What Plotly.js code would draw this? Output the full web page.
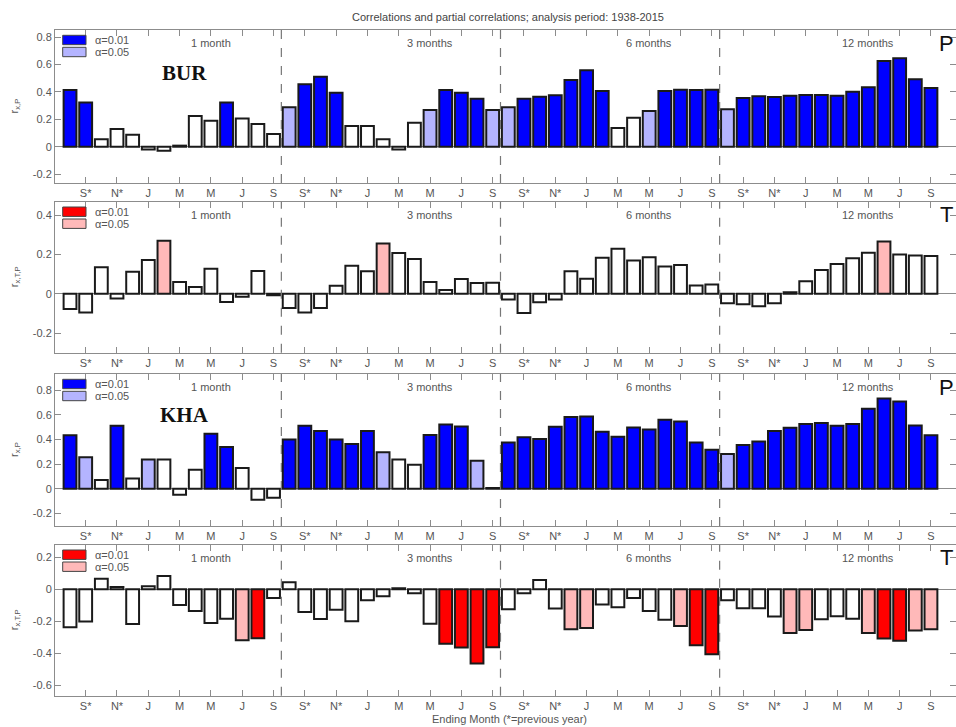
<!DOCTYPE html>
<html>
<head>
<meta charset="utf-8">
<script src="https://cdn.plot.ly/plotly-3.0.1.min.js"></script>
<style>html,body{margin:0;padding:0;background:#fff;} #chart{width:956px;height:727px;}</style>
</head>
<body>
<div id="chart"></div>
<script>
// ---- data ----
const sections = ['1 month', '3 months', '6 months', '12 months'];
const monthsPerSection = ['A*','S*','O*','N*','D*','J','F','M','A','M','J','J','A','S'];
const tickLabels = ['S*', 'N*', 'J', 'M', 'M', 'J', 'S'];
const stations = ['BUR', 'KHA'];
const panelVars = ['P', 'T', 'P', 'T'];
const yTitles = ['r<sub>x,P</sub>', 'r<sub>x,T,P</sub>', 'r<sub>x,P</sub>', 'r<sub>x,T,P</sub>'];
const sigLabels = ['\u03b1=0.01', '\u03b1=0.05'];

// significance codes: 0 = not significant, 1 = alpha 0.05, 2 = alpha 0.01
const burP = [0.415,0.324,0.054,0.13,0.088,-0.02,-0.03,0.008,0.225,0.19,0.324,0.207,0.166,0.093,
  0.288,0.456,0.512,0.395,0.151,0.151,0.054,-0.02,0.176,0.268,0.415,0.395,0.351,0.268,
  0.288,0.351,0.366,0.376,0.488,0.559,0.407,0.137,0.212,0.261,0.407,0.417,0.415,0.417,
  0.273,0.356,0.368,0.363,0.373,0.378,0.378,0.373,0.402,0.434,0.627,0.646,0.493,0.429];
const burPSig = [2,2,0,0,0,0,0,0,0,0,2,0,0,0,
  1,2,2,2,0,0,0,0,0,1,2,2,2,1,
  1,2,2,2,2,2,2,0,0,1,2,2,2,2,
  1,2,2,2,2,2,2,2,2,2,2,2,2,2];

const burT = [-0.078,-0.095,0.134,-0.024,0.112,0.171,0.27,0.059,0.034,0.127,-0.042,-0.015,0.115,-0.008,
  -0.073,-0.095,-0.073,0.041,0.142,0.114,0.256,0.207,0.176,0.059,0.019,0.075,0.054,0.056,
  -0.029,-0.098,-0.044,-0.03,0.114,0.076,0.183,0.229,0.169,0.186,0.139,0.146,0.042,0.047,
  -0.049,-0.054,-0.064,-0.049,0.007,0.064,0.12,0.151,0.181,0.208,0.266,0.2,0.195,0.192];
const burTSig = [0,0,0,0,0,0,1,0,0,0,0,0,0,0,
  0,0,0,0,0,0,1,0,0,0,0,0,0,0,
  0,0,0,0,0,0,0,0,0,0,0,0,0,0,
  0,0,0,0,0,0,0,0,0,0,1,0,0,0];

const khaP = [0.433,0.255,0.07,0.511,0.083,0.237,0.237,-0.048,0.153,0.446,0.339,0.169,-0.089,-0.073,
  0.40,0.511,0.468,0.40,0.363,0.468,0.295,0.238,0.195,0.435,0.52,0.505,0.227,0.006,
  0.374,0.417,0.403,0.503,0.581,0.586,0.462,0.422,0.497,0.481,0.559,0.546,0.374,0.317,
  0.282,0.355,0.382,0.468,0.495,0.524,0.532,0.511,0.524,0.648,0.731,0.707,0.513,0.433];
const khaPSig = [2,1,0,2,0,1,0,0,0,2,2,0,0,0,
  2,2,2,2,2,2,1,0,0,2,2,2,1,0,
  2,2,2,2,2,2,2,2,2,2,2,2,2,2,
  1,2,2,2,2,2,2,2,2,2,2,2,2,2];

const khaT = [-0.237,-0.201,0.066,0.015,-0.216,0.019,0.083,-0.098,-0.135,-0.21,-0.183,-0.317,-0.305,-0.054,
  0.044,-0.141,-0.185,-0.127,-0.199,-0.068,-0.044,0.006,-0.025,-0.214,-0.34,-0.363,-0.463,-0.361,
  -0.124,-0.025,0.058,-0.12,-0.249,-0.241,-0.095,-0.112,-0.054,-0.135,-0.189,-0.228,-0.349,-0.405,
  -0.068,-0.118,-0.118,-0.17,-0.272,-0.253,-0.187,-0.168,-0.183,-0.272,-0.307,-0.32,-0.257,-0.249];
const khaTSig = [0,0,0,0,0,0,0,0,0,0,0,1,2,0,
  0,0,0,0,0,0,0,0,0,0,2,2,2,2,
  0,0,0,0,1,1,0,0,0,0,0,1,2,2,
  0,0,0,0,1,1,0,0,0,1,2,2,1,1];

const panelValues = [burP, burT, khaP, khaT];
const panelSig = [burPSig, burTSig, khaPSig, khaTSig];
const yTickVals = [[-0.2,0,0.2,0.4,0.6,0.8],[-0.2,0,0.2,0.4],[-0.2,0,0.2,0.4,0.6,0.8],[-0.6,-0.4,-0.2,0,0.2]];

// ---- styling / layout ----
const W = 956, H = 727, L = 55;
const panelPx = [[30,183],[201.7,352.7],[374,526],[544.7,695.7]];
const yRanges = [[-0.265,0.853],[-0.30,0.468],[-0.302,0.93],[-0.663,0.278]];
const palettes = [
  ['#ffffff','#b4b4ff','#0000ff'],
  ['#ffffff','#ffb9b9','#ff0000']
];
const axisGrey = '#8c8c8c', textGrey = '#555555';
const nPer = monthsPerSection.length;
const nBars = nPer * sections.length;

const traces = [];
const layout = {
  width: W, height: H,
  margin: {l: L, r: 0, t: 0, b: 0},
  paper_bgcolor: '#ffffff', plot_bgcolor: '#ffffff',
  showlegend: false,
  bargap: 0.18,
  font: {family: 'Liberation Sans, Arial, sans-serif', size: 11, color: textGrey},
  title: {text: 'Correlations and partial correlations; analysis period: 1938-2015',
    x: 508/W, y: 1 - 17/H, xanchor: 'center', yanchor: 'middle',
    font: {size: 11, color: '#444'}},
  shapes: [], annotations: []
};

const tickVals = [];
const tickText = [];
for (let s = 0; s < sections.length; s++) {
  for (let k = 1; k < nPer; k += 2) { tickVals.push(s * nPer + k); tickText.push(tickLabels[(k - 1) / 2]); }
}

for (let p = 0; p < 4; p++) {
  const ax = p === 0 ? '' : String(p + 1);
  const xa = 'x' + ax, ya = 'y' + ax;
  const [top, bot] = panelPx[p];
  const hpx = bot - top;
  const pal = palettes[p % 2 === 0 ? 0 : 1];
  const xs = panelValues[p].map((v, i) => i);
  traces.push({
    type: 'bar', x: xs, y: panelValues[p], xaxis: xa, yaxis: ya,
    width: 0.82,
    marker: {color: panelSig[p].map(c => pal[c]), line: {color: '#1a1a1a', width: 2}},
    hoverinfo: 'x+y'
  });
  layout['xaxis' + ax] = {
    domain: [0, 1], anchor: ya, range: [-0.96, 56.6],
    tickmode: 'array', tickvals: tickVals, ticktext: tickText,
    ticks: 'inside', ticklen: 6, tickcolor: axisGrey, tickwidth: 1,
    showline: true, linecolor: axisGrey, linewidth: 1, mirror: 'ticks',
    showgrid: false, zeroline: false, automargin: false,
    tickfont: {size: 11, color: textGrey}
  };
  layout['yaxis' + ax] = {
    domain: [1 - bot / H, 1 - top / H], anchor: xa, range: yRanges[p],
    tickmode: 'array', tickvals: yTickVals[p], ticktext: yTickVals[p].map(v => String(v)),
    ticks: 'inside', ticklen: 6, tickcolor: axisGrey, tickwidth: 1,
    showline: true, linecolor: axisGrey, linewidth: 1, mirror: 'ticks',
    showgrid: false, zeroline: true, zerolinecolor: axisGrey, zerolinewidth: 1, automargin: false,
    tickfont: {size: 11, color: textGrey}
  };
  // section separators
  for (let s = 1; s < sections.length; s++) {
    layout.shapes.push({type: 'line', xref: xa, yref: ya + ' domain', x0: s * nPer - 0.5, x1: s * nPer - 0.5, y0: 0, y1: 1,
      line: {color: '#777', width: 1.2, dash: 'dash'}, layer: 'above'});
  }
  // section labels
  sections.forEach((name, s) => {
    layout.annotations.push({xref: xa, yref: ya + ' domain', x: s * nPer + 9, y: 1 - 13 / hpx, text: name,
      showarrow: false, xanchor: 'center', yanchor: 'middle', font: {size: 11, color: textGrey}});
  });
  // legend-like key
  [2, 1].forEach((c, j) => {
    const y0px = j === 0 ? 5.3 : 17.3;
    layout.shapes.push({type: 'rect', xref: 'paper', yref: ya + ' domain',
      x0: (62.7 - L) / (W - L), x1: (86 - L) / (W - L), y0: 1 - (y0px + 9.4) / hpx, y1: 1 - y0px / hpx,
      fillcolor: pal[c], line: {color: '#444', width: 1}});
    layout.annotations.push({xref: 'paper', yref: ya + ' domain', x: (93 - L) / (W - L), y: 1 - (y0px + 4.7) / hpx,
      text: sigLabels[j], showarrow: false, xanchor: 'left', yanchor: 'middle', font: {size: 11, color: textGrey}});
  });
  // variable tag on the right
  layout.annotations.push({xref: 'paper', yref: ya + ' domain', x: (946 - L) / (W - L), y: 1 - 13 / hpx,
    text: panelVars[p], showarrow: false, xanchor: 'center', yanchor: 'middle',
    font: {size: 22, color: '#111', family: 'Liberation Sans, Arial, sans-serif'}});
  // y title
  layout.annotations.push({xref: 'paper', yref: ya + ' domain', x: (15 - L) / (W - L), y: 0.5,
    text: yTitles[p], textangle: -90, showarrow: false, xanchor: 'center', yanchor: 'middle',
    font: {size: 11, color: textGrey}});
}

// station labels
layout.annotations.push({xref: 'x', yref: 'y domain', x: 7.3, y: (183 - 73) / 153, text: '<b>' + stations[0] + '</b>',
  showarrow: false, xanchor: 'center', yanchor: 'middle', font: {family: 'Liberation Serif, DejaVu Serif, serif', size: 21, color: '#111'}});
layout.annotations.push({xref: 'x3', yref: 'y3 domain', x: 7.3, y: (526 - 415) / 152, text: '<b>' + stations[1] + '</b>',
  showarrow: false, xanchor: 'center', yanchor: 'middle', font: {family: 'Liberation Serif, DejaVu Serif, serif', size: 21, color: '#111'}});

// x axis title
layout.annotations.push({xref: 'paper', yref: 'paper', x: (509 - L) / (W - L), y: 1 - 719 / H,
  text: 'Ending Month (*=previous year)', showarrow: false, xanchor: 'center', yanchor: 'middle',
  font: {size: 11, color: textGrey}});

Plotly.newPlot('chart', traces, layout, {displayModeBar: false, staticPlot: true});
</script>
</body>
</html>
